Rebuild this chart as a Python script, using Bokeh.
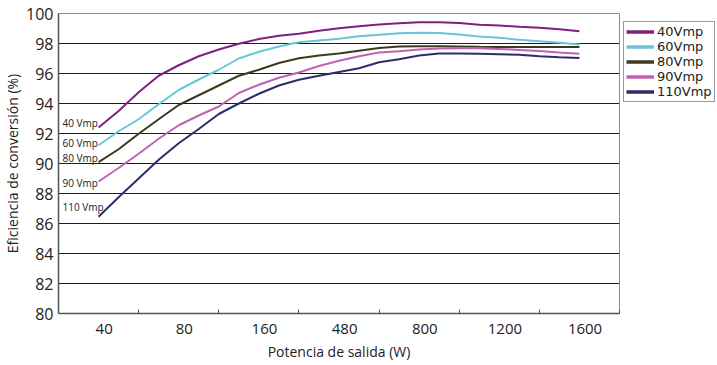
from bokeh.plotting import figure
from bokeh.models import FixedTicker, Legend, LegendItem, Range1d
from bokeh.core.properties import value
from bokeh.embed import file_html
from bokeh.resources import INLINE

# x-axis categories (output power, W); each occupies one unit of the axis
power_labels = ["40", "80", "160", "480", "800", "1200", "1600"]

# sample positions along the axis (unit = one category slot)
pos = [0.5, 0.75, 1.0, 1.25, 1.5, 1.75, 2.0, 2.25, 2.5, 2.75, 3.0, 3.25, 3.5,
       3.75, 4.0, 4.25, 4.5, 4.75, 5.0, 5.25, 5.5, 5.75, 6.0, 6.25, 6.5]

eff_40 = [92.4, 93.5, 94.75, 95.85, 96.55, 97.15, 97.6, 97.98, 98.3, 98.52, 98.65,
          98.85, 99.02, 99.15, 99.27, 99.35, 99.42, 99.42, 99.36, 99.25, 99.2,
          99.12, 99.05, 98.95, 98.82]
eff_60 = [91.22, 92.15, 92.95, 93.95, 94.9, 95.6, 96.25, 97.0, 97.45, 97.8, 98.08,
          98.2, 98.32, 98.48, 98.58, 98.68, 98.71, 98.7, 98.6, 98.47, 98.38,
          98.25, 98.15, 98.05, 97.93]
eff_80 = [90.09, 90.95, 91.98, 92.95, 93.9, 94.55, 95.2, 95.85, 96.25, 96.7, 97.02,
          97.2, 97.33, 97.52, 97.7, 97.8, 97.82, 97.82, 97.8, 97.78, 97.77,
          97.76, 97.76, 97.76, 97.76]
eff_90 = [88.8, 89.7, 90.65, 91.65, 92.55, 93.2, 93.8, 94.7, 95.25, 95.72, 96.07,
          96.5, 96.85, 97.15, 97.4, 97.48, 97.6, 97.67, 97.69, 97.69, 97.64,
          97.57, 97.5, 97.4, 97.31]
eff_110 = [86.45, 87.75, 89.0, 90.25, 91.35, 92.3, 93.3, 94.0, 94.65, 95.2, 95.58,
           95.85, 96.1, 96.35, 96.75, 96.95, 97.2, 97.33, 97.34, 97.31, 97.28,
           97.25, 97.15, 97.08, 97.04]

series_names = ["40Vmp", "60Vmp", "80Vmp", "90Vmp", "110Vmp"]
series_values = [eff_40, eff_60, eff_80, eff_90, eff_110]
series_colors = ["#7f1f80", "#66c6db", "#3b3a1e", "#c261b1", "#2d2d6c"]

curve_labels = ["40 Vmp", "60 Vmp", "80 Vmp", "90 Vmp", "110 Vmp"]
curve_label_y = [92.67, 91.4, 90.4, 88.67, 87.07]

y_ticks = [80, 82, 84, 86, 88, 90, 92, 94, 96, 98, 100]

p = figure(frame_width=561, frame_height=300,
           x_range=Range1d(0, 7), y_range=Range1d(80, 100),
           output_backend="svg", toolbar_location=None,
           min_border_left=51, min_border_right=4,
           min_border_top=13, min_border_bottom=44)
p.background_fill_color = "white"
p.border_fill_color = "white"
p.outline_line_color = "#8c8c8c"
p.outline_line_width = 1

legend_items = []
for name, vals, col in zip(series_names, series_values, series_colors):
    p.line(pos, vals, line_color=col, line_width=2)
    # single-point line: draws nothing in the plot, only provides a thicker legend key
    key = p.line(pos[:1], vals[:1], line_color=col, line_width=3.5)
    legend_items.append(LegendItem(label=name, renderers=[key]))

p.text(x=[0] * len(curve_labels), y=curve_label_y, text=curve_labels,
       text_align="left", text_baseline="middle", x_offset=4,
       text_font=value("Open Sans"), text_font_size="10px", text_color="#222222")

# axes
label_pos = [i + 0.57 for i in range(len(power_labels))]
p.xaxis.ticker = FixedTicker(ticks=label_pos, minor_ticks=[1, 2, 3, 4, 5, 6, 7])
p.xaxis.major_label_overrides = {t: l for t, l in zip(label_pos, power_labels)}
p.xaxis.major_tick_in = 0
p.xaxis.major_tick_out = 0
p.xaxis.minor_tick_in = 4
p.xaxis.minor_tick_out = 0
p.xaxis.minor_tick_line_color = "#555555"
p.xaxis.axis_line_color = "#555555"
p.xaxis.axis_line_width = 1.5
p.xaxis.major_label_text_font = "Open Sans"
p.xaxis.major_label_text_font_size = "15px"
p.xaxis.major_label_text_color = "#222222"
p.xaxis.major_label_standoff = 10
p.xaxis.axis_label = "Potencia de salida (W)"
p.xaxis.axis_label_text_font = "Open Sans"
p.xaxis.axis_label_text_font_size = "14px"
p.xaxis.axis_label_text_font_style = "normal"
p.xaxis.axis_label_text_color = "#222222"
p.xaxis.axis_label_standoff = 5

p.yaxis.ticker = FixedTicker(ticks=y_ticks)
p.yaxis.major_tick_in = 0
p.yaxis.major_tick_out = 0
p.yaxis.minor_tick_line_color = None
p.yaxis.axis_line_color = "#555555"
p.yaxis.axis_line_width = 1.5
p.yaxis.major_label_text_font = "Open Sans"
p.yaxis.major_label_text_font_size = "16px"
p.yaxis.major_label_text_color = "#222222"
p.yaxis.major_label_standoff = 5
p.yaxis.axis_label = "Eficiencia de conversión (%)"
p.yaxis.axis_label_text_font = "Open Sans"
p.yaxis.axis_label_text_font_size = "14px"
p.yaxis.axis_label_text_font_style = "normal"
p.yaxis.axis_label_text_color = "#222222"
p.yaxis.axis_label_standoff = 1

p.xgrid.visible = False
p.ygrid.ticker = FixedTicker(ticks=y_ticks)
p.ygrid.grid_line_color = "#1e1e1e"
p.ygrid.grid_line_width = 1

legend = Legend(items=legend_items, location=(4, 211))
legend.label_text_font = "DejaVu Sans"
legend.label_text_font_size = "13px"
legend.label_text_color = "#222222"
legend.glyph_width = 28
legend.glyph_height = 15
legend.label_height = 15
legend.label_standoff = 3
legend.spacing = 0
legend.padding = 2
legend.margin = 4
legend.border_line_color = "#333333"
legend.border_line_width = 1
legend.background_fill_alpha = 1
p.add_layout(legend, "right")

open("out.html", "w").write(file_html(p, INLINE))
